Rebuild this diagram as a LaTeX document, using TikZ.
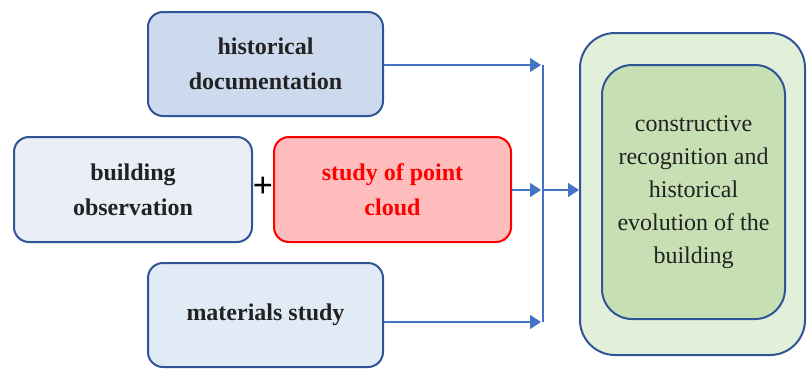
\documentclass[tikz,border=0pt]{standalone}
\usepackage{fontspec}
\setmainfont{Liberation Serif}
\usetikzlibrary{arrows.meta}
\definecolor{bordblue}{HTML}{2F5597}
\definecolor{lineblue}{HTML}{4472C4}
\definecolor{fillA}{HTML}{CDDAEE}
\definecolor{fillB}{HTML}{E9EEF7}
\definecolor{fillC}{HTML}{E1EBF6}
\definecolor{fillRed}{HTML}{FFBDBD}
\definecolor{fillOut}{HTML}{E2EFD9}
\definecolor{fillIn}{HTML}{C6E0B4}
\definecolor{txt}{HTML}{222222}
\tikzset{
  box/.style={draw=bordblue, line width=2pt, rounded corners=15pt, align=center,
    font=\fontsize{24}{35}\selectfont\bfseries, text=txt, inner sep=0pt},
  conn/.style={draw=lineblue, line width=1.2pt},
  arr/.style={conn, -{Triangle[length=11pt,width=14pt]}},
}
\begin{document}
\begin{tikzpicture}[x=1pt,y=-1pt]
\useasboundingbox (0,0) rectangle (808,368);
\node[box, fill=fillA, minimum width=235pt, minimum height=104pt] (hist) at (265.5,64) {historical\\documentation};
\node[box, fill=fillB, minimum width=238pt, minimum height=105pt] (bobs) at (133,189.5) {building\\observation};
\node[box, fill=fillRed, draw=red, text=red, minimum width=237pt, minimum height=105pt] (pc) at (392.5,189.5) {study of point\\cloud};
\node[box, fill=fillC, minimum width=235pt, minimum height=104pt] (mat) at (265.5,315) {materials study};
\node[font=\fontsize{36}{36}\selectfont\bfseries, inner sep=0pt] (plus) at (263,187) {+};
\node[draw=bordblue, line width=2pt, rounded corners=35pt, fill=fillOut, minimum width=225pt, minimum height=322pt] (outer) at (692.5,194) {};
\node[draw=bordblue, line width=2pt, rounded corners=30pt, fill=fillIn, minimum width=183pt, minimum height=254pt, align=center, font=\fontsize{24}{33}\selectfont, text=txt, inner sep=0pt] (inner) at (693.5,192) {constructive\\recognition and\\historical\\evolution of the\\building};
\coordinate (top) at (543,65);
\coordinate (bot) at (543,322);
\coordinate (mid) at (543,190);
\coordinate (t1) at (541,65);
\coordinate (t2) at (541,190);
\coordinate (t3) at (541,322);
\draw[conn] (top) -- (bot);
\draw[arr] (hist.east |- t1) -- (t1);
\draw[arr] (pc.east |- t2) -- (t2);
\draw[arr] (mat.east |- t3) -- (t3);
\draw[arr] (mid) -- (outer.west |- mid);
\end{tikzpicture}
\end{document}
